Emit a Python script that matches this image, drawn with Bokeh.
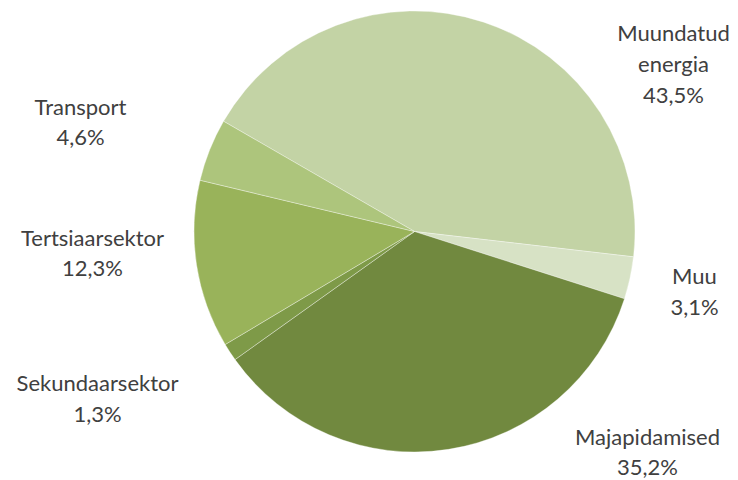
import math
from bokeh.plotting import figure
from bokeh.models import ColumnDataSource, Range1d
from bokeh.core.properties import value
from bokeh.embed import file_html
from bokeh.resources import INLINE

# Data
categories = ["Muundatud energia", "Muu", "Majapidamised", "Sekundaarsektor", "Tertsiaarsektor", "Transport"]
shares = [43.5, 3.1, 35.2, 1.3, 12.3, 4.6]
colors = ["#c3d3a5", "#d7e2c5", "#71893f", "#7e9a48", "#99b35a", "#adc57c"]

# Layout (label anchor positions in pixel-like data units)
label_x = [673, 694, 647, 97, 92, 80]
label_y = [417, 189.5, 29, 82.5, 228, 359]

W, H = 738, 480
cx, cy, R = 414, 249, 220.5
start_deg = 150.0

total = sum(shares)
starts, ends = [], []
acc = 0.0
for s in shares:
    starts.append(math.radians(start_deg - acc / total * 360))
    acc += s
    ends.append(math.radians(start_deg - acc / total * 360))

def fmt(v):
    return f"{v:.1f}".replace(".", ",") + "%"

texts = []
for c, s in zip(categories, shares):
    name = c.replace(" ", "\n")
    texts.append(name + "\n" + fmt(s))

src = ColumnDataSource(dict(x=[cx] * len(shares), y=[cy] * len(shares),
                            start=starts, end=ends, color=colors))
lsrc = ColumnDataSource(dict(x=label_x, y=label_y, text=texts))

p = figure(width=W, height=H, output_backend="svg", toolbar_location=None,
           x_range=Range1d(0, W), y_range=Range1d(0, H), min_border=0)
p.axis.visible = False
p.grid.visible = False
p.outline_line_color = None
p.background_fill_color = "white"
p.border_fill_color = "white"

p.wedge(x="x", y="y", radius=R, radius_units="data", start_angle="start", end_angle="end",
        direction="clock", fill_color="color", line_color="white", line_width=0.5,
        line_alpha=0.7, source=src)

p.text(x="x", y="y", text="text", source=lsrc, text_align="center", text_baseline="middle",
       text_font=value("Lato"), text_font_size="22px", text_color="#404040",
       text_line_height=1.14)

open("out.html", "w").write(file_html(p, INLINE))
